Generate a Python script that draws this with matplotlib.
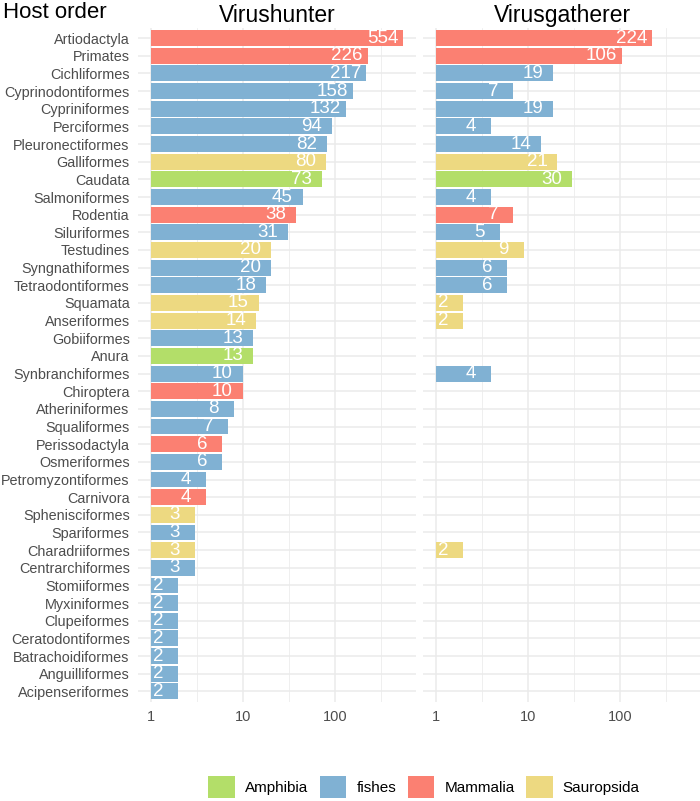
import matplotlib
matplotlib.use("Agg")
import matplotlib.pyplot as plt
from matplotlib.patches import Patch
import numpy as np

plt.rcParams['font.family'] = ['Liberation Sans', 'DejaVu Sans']

orders = ["Artiodactyla", "Primates", "Cichliformes", "Cyprinodontiformes", "Cypriniformes",
          "Perciformes", "Pleuronectiformes", "Galliformes", "Caudata", "Salmoniformes",
          "Rodentia", "Siluriformes", "Testudines", "Syngnathiformes", "Tetraodontiformes",
          "Squamata", "Anseriformes", "Gobiiformes", "Anura", "Synbranchiformes",
          "Chiroptera", "Atheriniformes", "Squaliformes", "Perissodactyla", "Osmeriformes",
          "Petromyzontiformes", "Carnivora", "Sphenisciformes", "Spariformes", "Charadriiformes",
          "Centrarchiformes", "Stomiiformes", "Myxiniformes", "Clupeiformes", "Ceratodontiformes",
          "Batrachoidiformes", "Anguilliformes", "Acipenseriformes"]
host_class = ["Mammalia", "Mammalia", "fishes", "fishes", "fishes",
              "fishes", "fishes", "Sauropsida", "Amphibia", "fishes",
              "Mammalia", "fishes", "Sauropsida", "fishes", "fishes",
              "Sauropsida", "Sauropsida", "fishes", "Amphibia", "fishes",
              "Mammalia", "fishes", "fishes", "Mammalia", "fishes",
              "fishes", "Mammalia", "Sauropsida", "fishes", "Sauropsida",
              "fishes", "fishes", "fishes", "fishes", "fishes",
              "fishes", "fishes", "fishes"]
virushunter = [554, 226, 217, 158, 132, 94, 82, 80, 73, 45,
               38, 31, 20, 20, 18, 15, 14, 13, 13, 10,
               10, 8, 7, 6, 6, 4, 4, 3, 3, 3,
               3, 2, 2, 2, 2, 2, 2, 2]
virusgatherer = [224, 106, 19, 7, 19, 4, 14, 21, 30, 4,
                 7, 5, 9, 6, 6, 2, 2, None, None, 4,
                 None, None, None, None, None, None, None, None, None, 2,
                 None, None, None, None, None, None, None, None]

classes = ["Amphibia", "fishes", "Mammalia", "Sauropsida"]
colors = {"Amphibia": "#B3DE69", "fishes": "#80B1D3", "Mammalia": "#FB8072", "Sauropsida": "#EDD981"}

W, H = 700, 801
fig = plt.figure(figsize=(W / 100, H / 100), dpi=100)

def px_axes(x0, x1, ytop, ybot):
    return fig.add_axes([x0 / W, 1 - ybot / H, (x1 - x0) / W, (ybot - ytop) / H])

n = len(orders)
ypos = np.arange(n)
top_px, bot_px = 27.5, 702
ax1 = px_axes(138, 416, top_px, bot_px)
ax2 = px_axes(423, 701, top_px, bot_px)

xlim = (10 ** -0.137, 10 ** 2.88)
grid_c = "#EBEBEB"

for ax, vals, title in [(ax1, virushunter, "Virushunter"), (ax2, virusgatherer, "Virusgatherer")]:
    ax.set_xscale("log")
    ax.set_xlim(*xlim)
    ax.set_ylim(n - 0.4, -0.6)
    for s in ax.spines.values():
        s.set_visible(False)
    for v in [1, 10, 100]:
        ax.axvline(v, color=grid_c, lw=1.1, zorder=0)
    for v in [10 ** 0.5, 10 ** 1.5, 10 ** 2.5]:
        ax.axvline(v, color=grid_c, lw=0.55, zorder=0)
    for y in ypos:
        ax.axhline(y, color=grid_c, lw=1.1, zorder=0)
    for y, v, c in zip(ypos, vals, host_class):
        if v is None:
            continue
        ax.barh(y, v - 1, left=1, height=0.9, color=colors[c], zorder=2)
        ax.text(v * 0.6, y, str(v), ha="center", va="center", color="white",
                fontsize=13.5, zorder=3)
    ax.set_xticks([1, 10, 100])
    ax.set_xticklabels(["1", "10", "100"])
    ax.xaxis.set_minor_locator(matplotlib.ticker.NullLocator())
    ax.tick_params(axis="x", length=0, labelsize=10.5, labelcolor="#4D4D4D", pad=6)
    ax.set_yticks(ypos)
    ax.set_title(title, fontsize=16.5, pad=4, color="black")

ax1.set_yticklabels(orders)
ax1.tick_params(axis="y", length=0, labelsize=10.4, labelcolor="#4D4D4D", pad=6)
ax2.set_yticklabels([])
ax2.tick_params(axis="y", length=0)

fig.text(3 / W, 1 - 12 / H, "Host order", fontsize=16, ha="left", va="center")

handles = [Patch(facecolor=colors[c], edgecolor="none", label=c) for c in classes]
fig.legend(handles=handles, loc="center", bbox_to_anchor=(424 / W, 1 - 787 / H), ncol=4,
           frameon=False, fontsize=11, handlelength=1.75, handleheight=1.75,
           handletextpad=0.65, columnspacing=0.75, borderpad=0.2)

fig.savefig("out.png", dpi=100)
